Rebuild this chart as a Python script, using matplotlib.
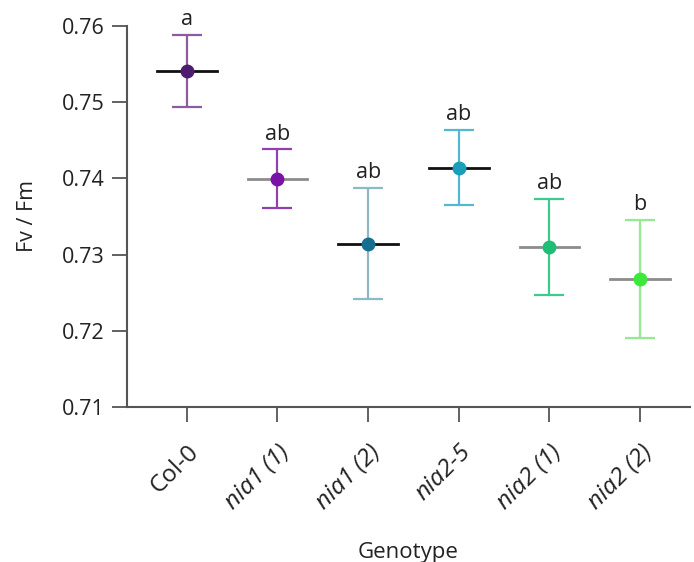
import numpy as np
import matplotlib.pyplot as plt

plt.rcParams['font.family'] = ['Open Sans', 'DejaVu Sans']

genotypes = ['Col-0', 'nia1 (1)', 'nia1 (2)', 'nia2-5', 'nia2 (1)', 'nia2 (2)']
means = [0.7541, 0.7399, 0.7314, 0.7413, 0.7310, 0.7268]
upper = [0.7588, 0.7438, 0.7388, 0.7463, 0.7373, 0.7345]
lower = [0.7494, 0.7361, 0.7242, 0.7365, 0.7247, 0.7190]
letters = ['a', 'ab', 'ab', 'ab', 'ab', 'b']

point_colors = ['#4e1c6e', '#7a12a8', '#15708f', '#1a9eba', '#1dbf77', '#3de83d']
bar_colors = ['#8c5c9e', '#9240b0', '#8fb8c6', '#55b8cc', '#3fc98e', '#95e895']
mean_colors = ['#111111', '#8c8c8c', '#111111', '#111111', '#8c8c8c', '#8c8c8c']

fig = plt.figure(figsize=(6.94, 5.62), dpi=100)
ax = fig.add_axes([127/694, 155/562, 563/694, 381/562])

x = np.arange(len(genotypes))
for i in x:
    ax.errorbar(i, means[i],
                yerr=[[means[i] - lower[i]], [upper[i] - means[i]]],
                fmt='none', ecolor=bar_colors[i], elinewidth=1.6,
                capsize=11, capthick=1.6, zorder=2)
    ax.plot([i - 0.33, i + 0.33], [means[i], means[i]],
            color=mean_colors[i], lw=2, zorder=3)
    ax.plot(i, means[i], 'o', color=point_colors[i], ms=9, zorder=4)
    ax.text(i, upper[i] + 0.0013, letters[i], ha='center', va='baseline',
            fontsize=15.5, color='#222222')

ax.set_xlim(-0.66, 5.55)
ax.set_ylim(0.71, 0.76)
ax.set_yticks([0.71, 0.72, 0.73, 0.74, 0.75, 0.76])
ax.set_yticklabels(['0.71', '0.72', '0.73', '0.74', '0.75', '0.76'])
ax.set_xticks(x)
ax.set_xticklabels(genotypes, rotation=45, ha='right', rotation_mode='anchor')
for lbl in ax.get_xticklabels()[1:]:
    lbl.set_fontstyle('italic')

ax.tick_params(axis='both', labelsize=15.5, colors='#555555',
               labelcolor='#222222', length=11, width=1.3, direction='out')
ax.tick_params(axis='y', pad=5)
ax.tick_params(axis='x', pad=13, labelsize=17.5)
for side in ['top', 'right']:
    ax.spines[side].set_visible(False)
for side in ['left', 'bottom']:
    ax.spines[side].set_color('#555555')
    ax.spines[side].set_linewidth(1.5)

ax.set_ylabel('Fv / Fm', fontsize=15.5, color='#222222', labelpad=17)
ax.set_xlabel('Genotype', fontsize=16, color='#222222', labelpad=20)

fig.savefig('out.png', dpi=100)
